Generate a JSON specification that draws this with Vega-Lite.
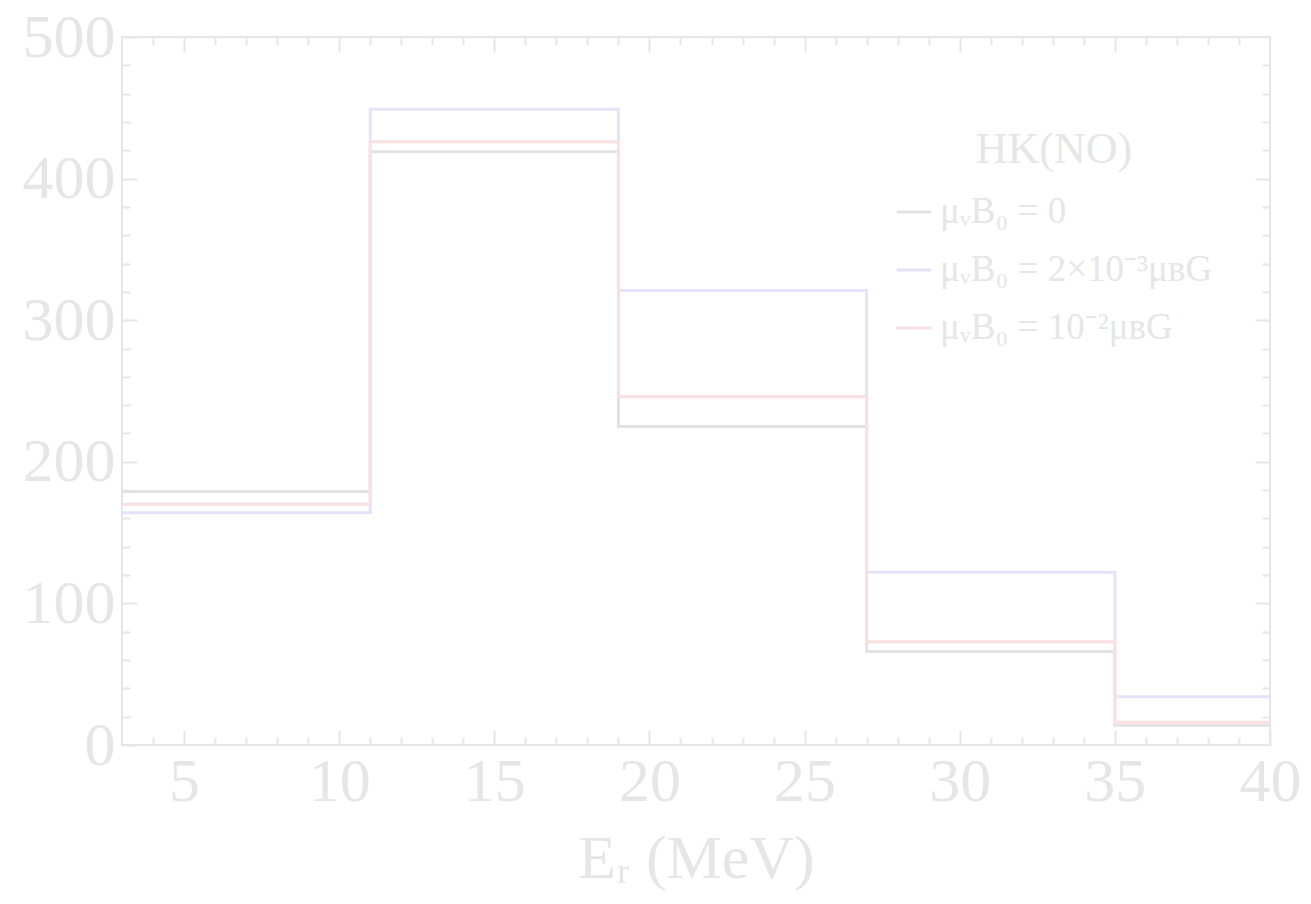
{
  "$schema": "https://vega.github.io/schema/vega-lite/v6.json",
  "width": 1148,
  "height": 708,
  "autosize": {"type": "none"},
  "padding": {"left": 122, "top": 37, "right": 41, "bottom": 159},
  "background": "white",
  "config": {
    "font": "Liberation Serif",
    "view": {"stroke": "#e6e6e6", "strokeWidth": 2},
    "axis": {"grid": false, "domain": false, "tickColor": "#e6e6e6", "tickWidth": 2, "labelColor": "#e6e6e6", "titleColor": "#e6e6e6", "labelFont": "Liberation Serif", "titleFont": "Liberation Serif", "labelFlush": false, "labelOverlap": false}
  },
  "data": {
    "values": [
      {"E": 3, "N": 179, "series": "μᵥB₀ = 0"},
      {"E": 11, "N": 419, "series": "μᵥB₀ = 0"},
      {"E": 19, "N": 225, "series": "μᵥB₀ = 0"},
      {"E": 27, "N": 66, "series": "μᵥB₀ = 0"},
      {"E": 35, "N": 14, "series": "μᵥB₀ = 0"},
      {"E": 40, "N": 14, "series": "μᵥB₀ = 0"},
      {"E": 3, "N": 164, "series": "μᵥB₀ = 2×10⁻³μʙG"},
      {"E": 11, "N": 449, "series": "μᵥB₀ = 2×10⁻³μʙG"},
      {"E": 19, "N": 321, "series": "μᵥB₀ = 2×10⁻³μʙG"},
      {"E": 27, "N": 122, "series": "μᵥB₀ = 2×10⁻³μʙG"},
      {"E": 35, "N": 34, "series": "μᵥB₀ = 2×10⁻³μʙG"},
      {"E": 40, "N": 34, "series": "μᵥB₀ = 2×10⁻³μʙG"},
      {"E": 3, "N": 170, "series": "μᵥB₀ = 10⁻²μʙG"},
      {"E": 11, "N": 426, "series": "μᵥB₀ = 10⁻²μʙG"},
      {"E": 19, "N": 246, "series": "μᵥB₀ = 10⁻²μʙG"},
      {"E": 27, "N": 73, "series": "μᵥB₀ = 10⁻²μʙG"},
      {"E": 35, "N": 16, "series": "μᵥB₀ = 10⁻²μʙG"},
      {"E": 40, "N": 16, "series": "μᵥB₀ = 10⁻²μʙG"}
    ]
  },
  "layer": [
    {
      "mark": {"type": "line", "interpolate": "step-after", "strokeWidth": 3},
      "encoding": {
        "x": {
          "field": "E", "type": "quantitative",
          "scale": {"domain": [3, 40], "nice": false, "zero": false},
          "axis": {
            "orient": "bottom",
            "title": "Eᵣ (MeV)",
            "titleFontSize": 62,
            "titleFontWeight": "normal",
            "titlePadding": 9,
            "labelFontSize": 62,
            "labelPadding": 21,
            "values": [4,5,6,7,8,9,10,11,12,13,14,15,16,17,18,19,20,21,22,23,24,25,26,27,28,29,30,31,32,33,34,35,36,37,38,39,40],
            "labelExpr": "datum.value % 5 === 0 ? datum.label : ''",
            "tickSize": {"condition": {"test": "datum.value % 5 === 0", "value": -15}, "value": -8}
          }
        },
        "y": {
          "field": "N", "type": "quantitative",
          "scale": {"domain": [0, 500], "nice": false},
          "axis": {
            "orient": "left",
            "title": null,
            "labelFontSize": 62,
            "labelPadding": 22,
            "values": [0,20,40,60,80,100,120,140,160,180,200,220,240,260,280,300,320,340,360,380,400,420,440,460,480,500],
            "labelExpr": "datum.value % 100 === 0 ? datum.label : ''",
            "tickSize": {"condition": {"test": "datum.value % 100 === 0", "value": -15}, "value": -8}
          }
        },
        "color": {
          "field": "series", "type": "nominal",
          "scale": {
            "domain": ["μᵥB₀ = 0", "μᵥB₀ = 2×10⁻³μʙG", "μᵥB₀ = 10⁻²μʙG"],
            "range": ["#e2e2e2", "#e3e3f9", "#fae0e0"]
          },
          "legend": {
            "orient": "none",
            "legendX": 773,
            "legendY": 91,
            "title": "HK(NO)",
            "titleFontSize": 44,
            "titleFontWeight": "normal",
            "titleColor": "#e6e6e6",
            "titleAnchor": "middle",
            "titlePadding": 21,
            "labelFontSize": 37,
            "labelColor": "#e6e6e6",
            "labelOffset": 7,
            "labelLimit": 500,
            "symbolType": "stroke",
            "symbolSize": 1200,
            "symbolStrokeWidth": 3,
            "rowPadding": 21
          }
        }
      }
    },
    {
      "mark": {"type": "line", "interpolate": "step-after", "strokeOpacity": 0},
      "encoding": {
        "x": {
          "field": "E", "type": "quantitative",
          "axis": {
            "orient": "top", "title": null, "labels": false,
            "values": [4,5,6,7,8,9,10,11,12,13,14,15,16,17,18,19,20,21,22,23,24,25,26,27,28,29,30,31,32,33,34,35,36,37,38,39],
            "tickSize": {"condition": {"test": "datum.value % 5 === 0", "value": -15}, "value": -8}
          }
        },
        "y": {
          "field": "N", "type": "quantitative",
          "axis": {
            "orient": "right", "title": null, "labels": false,
            "values": [20,40,60,80,100,120,140,160,180,200,220,240,260,280,300,320,340,360,380,400,420,440,460,480],
            "tickSize": {"condition": {"test": "datum.value % 100 === 0", "value": -15}, "value": -8}
          }
        },
        "detail": {"field": "series", "type": "nominal"}
      }
    }
  ],
  "resolve": {"axis": {"x": "independent", "y": "independent"}}
}
